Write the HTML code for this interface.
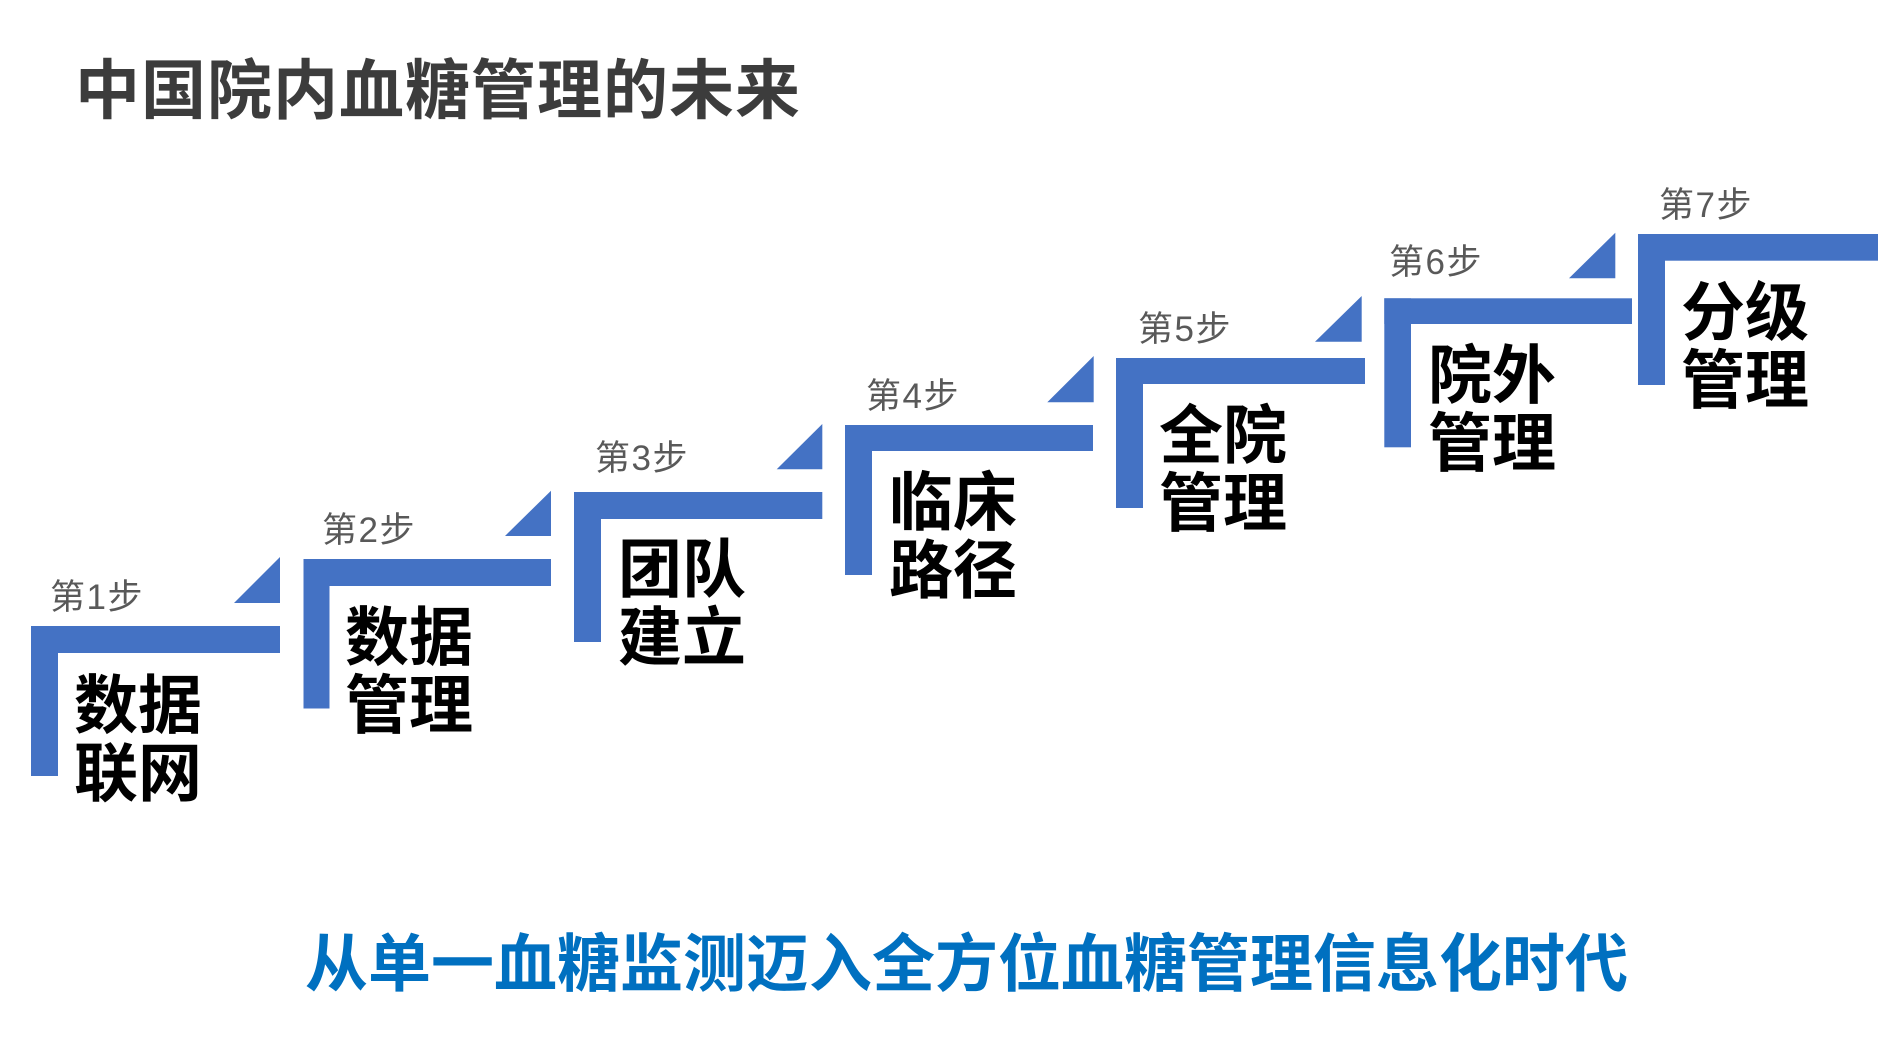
<!DOCTYPE html>
<html>
<head>
<meta charset="utf-8">
<style>
  html, body { margin: 0; padding: 0; background: #ffffff; }
  body { width: 1878px; height: 1051px; position: relative; overflow: hidden; }
  svg { position: absolute; left: 0; top: 0; }
  .t { position: absolute; white-space: nowrap; font-family: "Liberation Sans", "Noto Sans CJK SC", sans-serif; }
  .title { font-size: 65px; font-weight: 700; color: #3c3c3c; line-height: 65px; letter-spacing: 1px; }
  .lbl { font-size: 35px; font-weight: 400; color: #595959; line-height: 35px; letter-spacing: 1.5px; }
  .big { font-size: 64px; font-weight: 700; color: #000000; line-height: 67.5px; }
  .bottom { font-size: 63px; font-weight: 700; color: #0070c0; line-height: 63px; }
</style>
</head>
<body>
<svg width="1878" height="1051" viewBox="0 0 1878 1051">
  <g fill="#4472c4">
    <rect x="31" y="626" width="249" height="27"/>
    <rect x="31" y="626" width="27" height="150"/>
    <polygon points="234,603 280,557 280,603"/>
    <rect x="303.5" y="559" width="247.5" height="27"/>
    <rect x="303.5" y="559" width="26" height="149.5"/>
    <polygon points="505,536 551,490.7 551,536"/>
    <rect x="574" y="492" width="248.3" height="27"/>
    <rect x="574" y="492" width="27" height="150"/>
    <polygon points="776.7,469.3 822.3,424 822.3,469.3"/>
    <rect x="845" y="425" width="248" height="26"/>
    <rect x="845" y="425" width="27" height="150"/>
    <polygon points="1047.3,402.3 1093.7,356 1093.7,402.3"/>
    <rect x="1116" y="358" width="249" height="26"/>
    <rect x="1116" y="358" width="27" height="150"/>
    <polygon points="1315,341.7 1361.7,296 1361.7,341.7"/>
    <rect x="1384.3" y="298.3" width="247.7" height="25.7"/>
    <rect x="1384.3" y="298.3" width="26.7" height="149"/>
    <polygon points="1569,278.3 1615.3,232.7 1615.3,278.3"/>
    <rect x="1638" y="234" width="240" height="26.7"/>
    <rect x="1638" y="234" width="27" height="151"/>
  </g>
</svg>

<div class="t title" style="left:75px; top:58px;">中国院内血糖管理的未来</div>

<div class="t lbl" style="left:50px; top:580px;">第1步</div>
<div class="t lbl" style="left:322px; top:513px;">第2步</div>
<div class="t lbl" style="left:595px; top:441px;">第3步</div>
<div class="t lbl" style="left:866px; top:379px;">第4步</div>
<div class="t lbl" style="left:1138px; top:312px;">第5步</div>
<div class="t lbl" style="left:1389px; top:245px;">第6步</div>
<div class="t lbl" style="left:1659px; top:188px;">第7步</div>

<div class="t big" style="left:74px; top:673px;">数据<br>联网</div>
<div class="t big" style="left:345px; top:605px;">数据<br>管理</div>
<div class="t big" style="left:618px; top:537px;">团队<br>建立</div>
<div class="t big" style="left:889px; top:470px;">临床<br>路径</div>
<div class="t big" style="left:1159px; top:403px;">全院<br>管理</div>
<div class="t big" style="left:1428px; top:343px;">院外<br>管理</div>
<div class="t big" style="left:1681px; top:280px;">分级<br>管理</div>

<div class="t bottom" style="left:305px; top:934px;">从单一血糖监测迈入全方位血糖管理信息化时代</div>
</body>
</html>
